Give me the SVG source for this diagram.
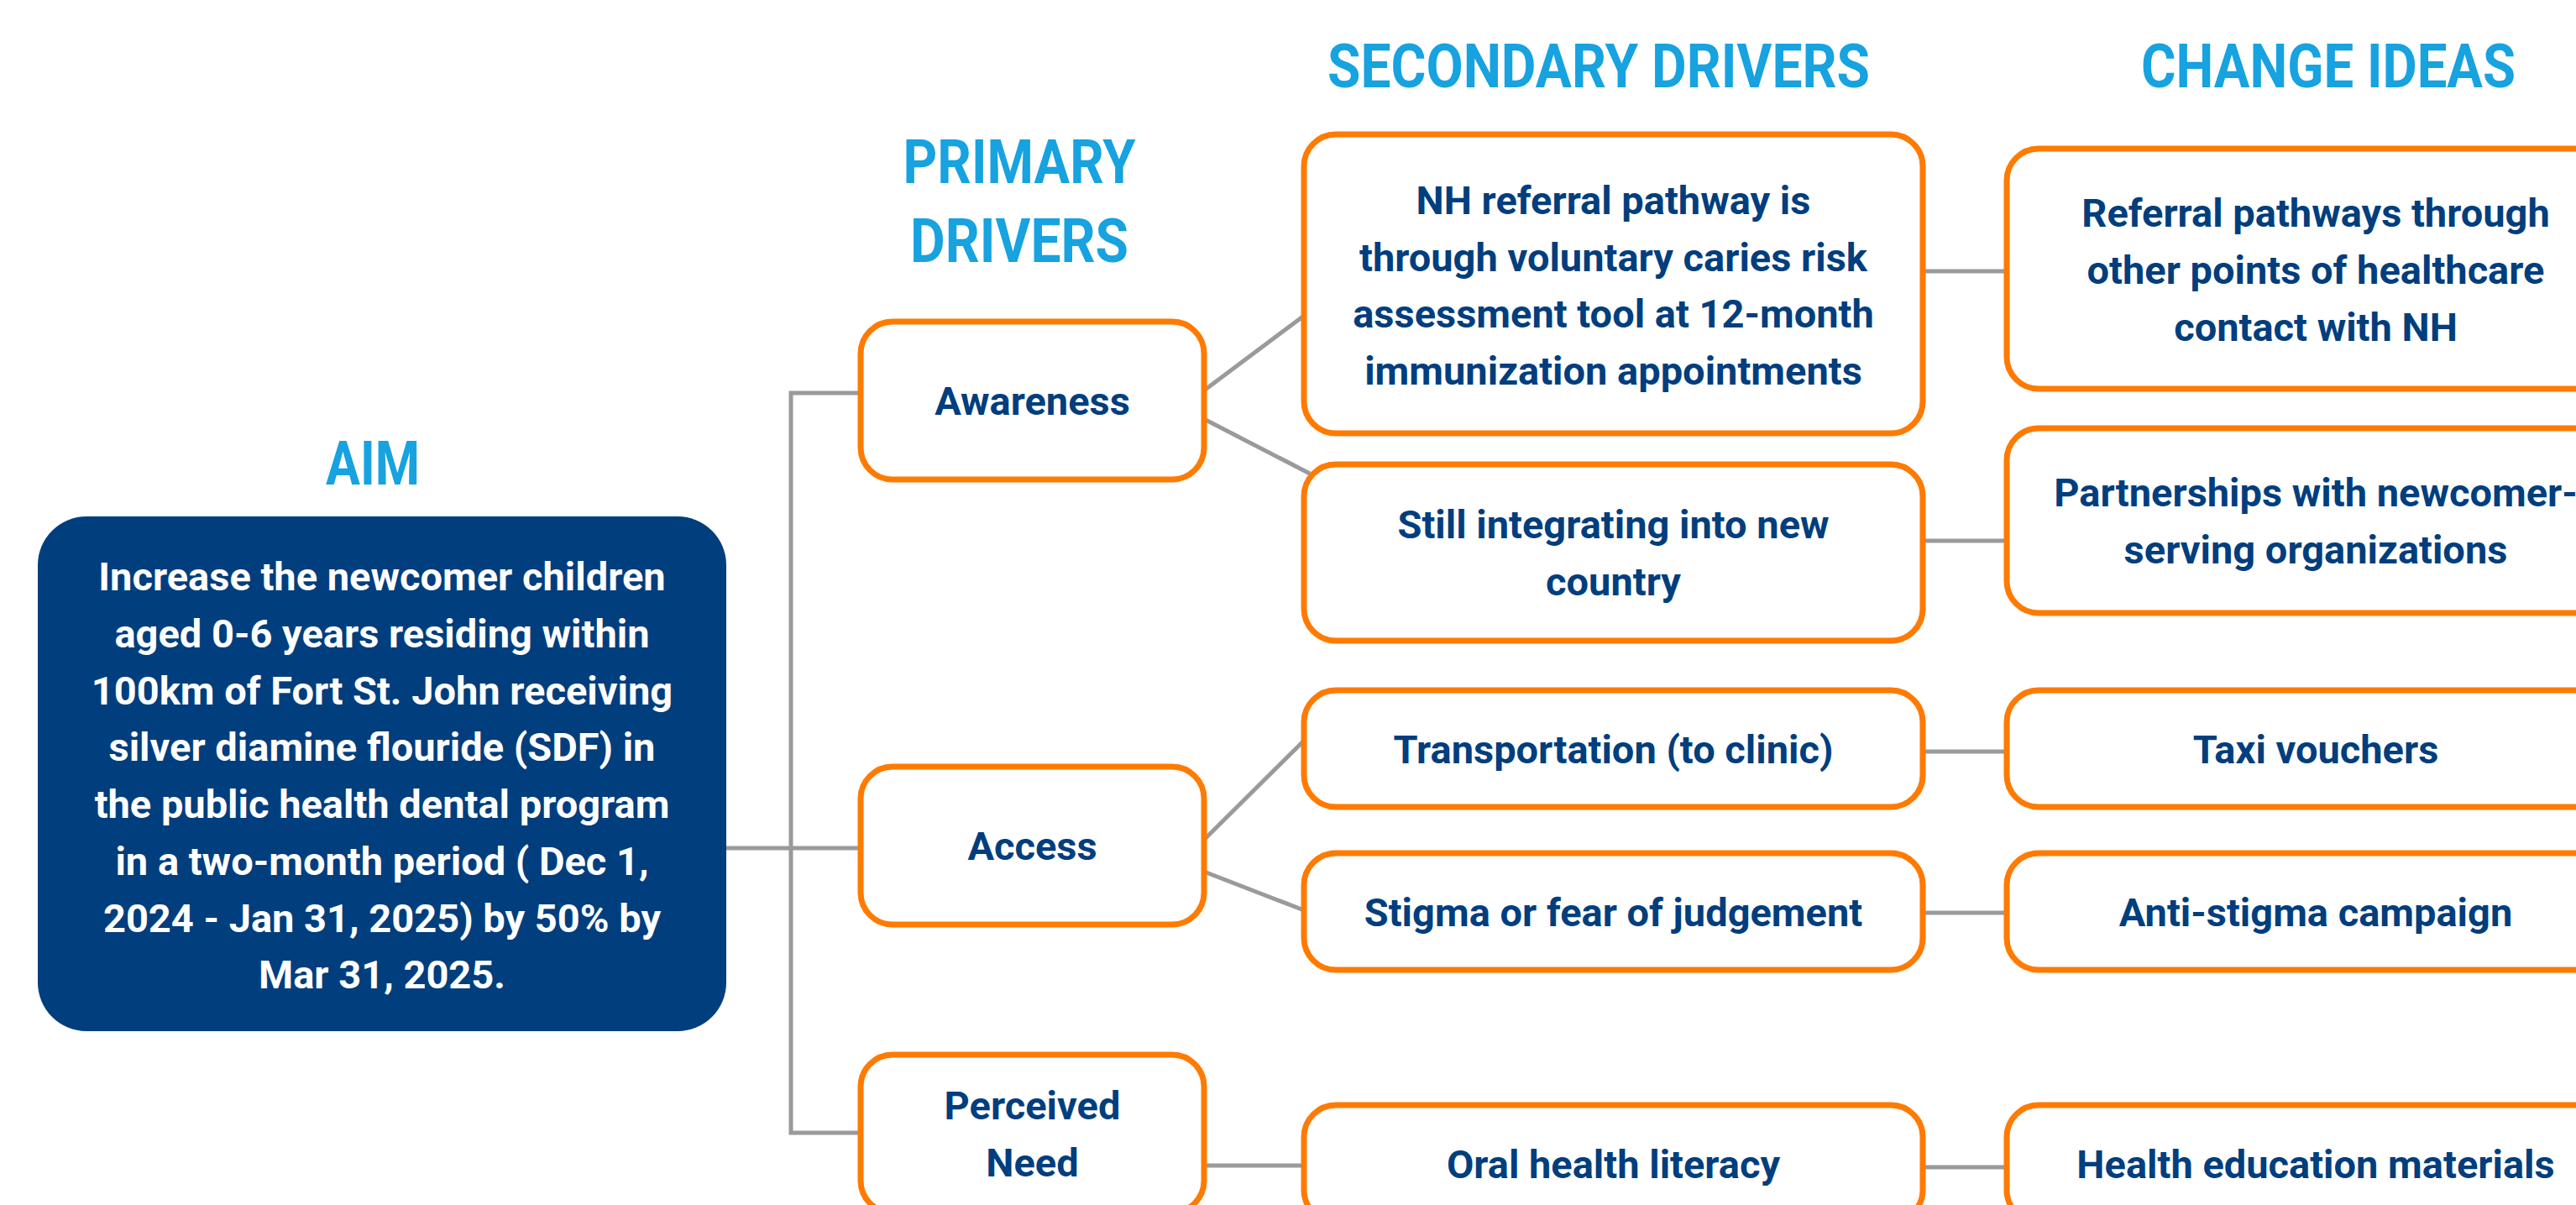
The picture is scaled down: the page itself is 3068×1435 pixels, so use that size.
<svg xmlns="http://www.w3.org/2000/svg" width="3068" height="1435" viewBox="0 0 3068 1435">
<style>
.bg{fill:#ffffff}
.head{font-family:Roboto,"Liberation Sans",sans-serif;font-weight:700;font-size:72px;fill:#17A2E0;text-anchor:middle}
.box{fill:#ffffff;stroke:#FF7A00;stroke-width:7}
.aim{fill:#003E7E}
.t{font-family:Roboto,"Liberation Sans",sans-serif;font-weight:700;font-size:47px;fill:#003E7E;text-anchor:middle}
.tw{font-family:Roboto,"Liberation Sans",sans-serif;font-weight:700;font-size:47px;fill:#ffffff;text-anchor:middle}
.con{fill:none;stroke:#9A9A9C;stroke-width:5}
</style>
<rect class="bg" x="0" y="0" width="3068" height="1435"/>
<g id="headings">
<text class="head" x="444" y="577" textLength="112" lengthAdjust="spacingAndGlyphs">AIM</text>
<text class="head" x="1214" y="218" textLength="277" lengthAdjust="spacingAndGlyphs">PRIMARY</text>
<text class="head" x="1214" y="312" textLength="260" lengthAdjust="spacingAndGlyphs">DRIVERS</text>
<text class="head" x="1904" y="104" textLength="646" lengthAdjust="spacingAndGlyphs">SECONDARY DRIVERS</text>
<text class="head" x="2773" y="104" textLength="446" lengthAdjust="spacingAndGlyphs">CHANGE IDEAS</text>
</g>
<g id="connectors">
<path class="con" d="M865 1010 H1025"/>
<path class="con" d="M1025 468 H942 V1349 H1025"/>
<path class="con" d="M1434 465 L1553 376"/>
<path class="con" d="M1434 499 L1560 564"/>
<path class="con" d="M1434 1000 L1553 882"/>
<path class="con" d="M1434 1038 L1553 1084"/>
<path class="con" d="M1434 1388 H1553"/>
<path class="con" d="M2290 323 H2390"/>
<path class="con" d="M2290 644 H2390"/>
<path class="con" d="M2290 895 H2390"/>
<path class="con" d="M2290 1087 H2390"/>
<path class="con" d="M2290 1390 H2390"/>
</g>
<g id="aim">
<rect class="aim" x="45" y="615" width="820" height="613" rx="58"/>
<text class="tw" x="455" y="703">Increase the newcomer children</text>
<text class="tw" x="455" y="771">aged 0-6 years residing within</text>
<text class="tw" x="455" y="839">100km of Fort St. John receiving</text>
<text class="tw" x="455" y="906">silver diamine flouride (SDF) in</text>
<text class="tw" x="455" y="974">the public health dental program</text>
<text class="tw" x="455" y="1042">in a two-month period ( Dec 1,</text>
<text class="tw" x="455" y="1110">2024 - Jan 31, 2025) by 50% by</text>
<text class="tw" x="455" y="1177">Mar 31, 2025.</text>
</g>
<g id="awareness">
<rect class="box" x="1025" y="383" width="409" height="188" rx="38"/>
<text class="t" x="1229.5" y="494">Awareness</text>
</g>
<g id="access">
<rect class="box" x="1025" y="913" width="409" height="188" rx="38"/>
<text class="t" x="1229.5" y="1024">Access</text>
</g>
<g id="perceived-need">
<rect class="box" x="1025" y="1256" width="409" height="188" rx="38"/>
<text class="t" x="1229.5" y="1333">Perceived</text>
<text class="t" x="1229.5" y="1401">Need</text>
</g>
<g id="nh-referral">
<rect class="box" x="1553" y="160" width="737" height="356" rx="38"/>
<text class="t" x="1921.5" y="255">NH referral pathway is</text>
<text class="t" x="1921.5" y="323">through voluntary caries risk</text>
<text class="t" x="1921.5" y="390">assessment tool at 12-month</text>
<text class="t" x="1921.5" y="458">immunization appointments</text>
</g>
<g id="still-integrating">
<rect class="box" x="1553" y="553" width="737" height="210" rx="38"/>
<text class="t" x="1921.5" y="641">Still integrating into new</text>
<text class="t" x="1921.5" y="709">country</text>
</g>
<g id="transportation">
<rect class="box" x="1553" y="822" width="737" height="139" rx="38"/>
<text class="t" x="1921.5" y="909">Transportation (to clinic)</text>
</g>
<g id="stigma">
<rect class="box" x="1553" y="1016" width="737" height="139" rx="38"/>
<text class="t" x="1921.5" y="1103">Stigma or fear of judgement</text>
</g>
<g id="oral-health">
<rect class="box" x="1553" y="1316" width="737" height="139" rx="38"/>
<text class="t" x="1921.5" y="1403">Oral health literacy</text>
</g>
<g id="referral-pathways">
<rect class="box" x="2390" y="177" width="736" height="286" rx="38"/>
<text class="t" x="2758" y="270">Referral pathways through</text>
<text class="t" x="2758" y="338">other points of healthcare</text>
<text class="t" x="2758" y="406">contact with NH</text>
</g>
<g id="partnerships">
<rect class="box" x="2390" y="510" width="736" height="220" rx="38"/>
<text class="t" x="2758" y="603">Partnerships with newcomer-</text>
<text class="t" x="2758" y="671">serving organizations</text>
</g>
<g id="taxi">
<rect class="box" x="2390" y="822" width="736" height="139" rx="38"/>
<text class="t" x="2758" y="909">Taxi vouchers</text>
</g>
<g id="anti-stigma">
<rect class="box" x="2390" y="1016" width="736" height="139" rx="38"/>
<text class="t" x="2758" y="1103">Anti-stigma campaign</text>
</g>
<g id="health-education">
<rect class="box" x="2390" y="1316" width="736" height="139" rx="38"/>
<text class="t" x="2758" y="1403">Health education materials</text>
</g>
</svg>
